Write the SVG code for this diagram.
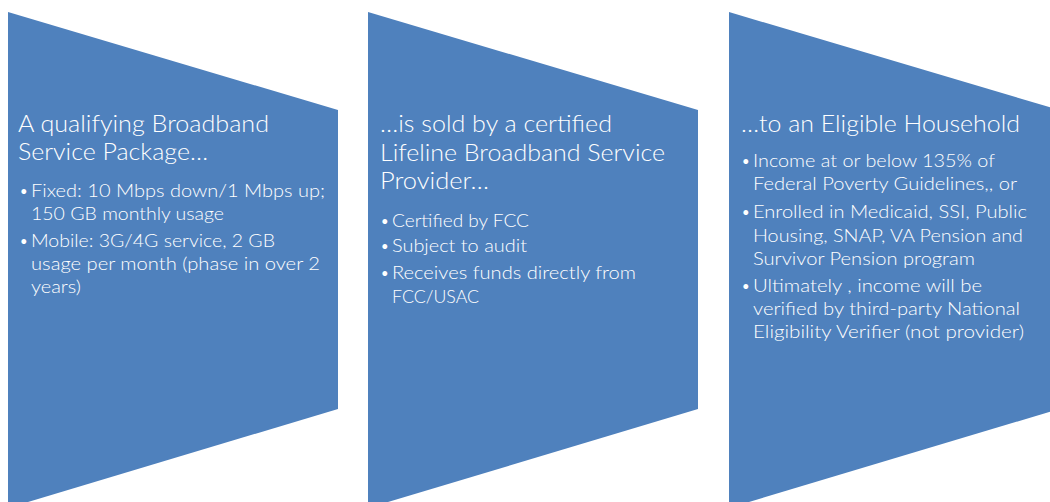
<svg xmlns="http://www.w3.org/2000/svg" width="1050" height="502" viewBox="0 0 1050 502">
<style>
.shape{fill:#4F81BD;}
.t{font-family:Lato,"Open Sans","Liberation Sans",sans-serif;fill:#FFFFFF;font-weight:300;}
.h{font-size:23px;}
.b{font-size:17.5px;}
.d{font-size:13px;font-weight:400;}
</style>
<rect width="1050" height="502" fill="#FFFFFF"/>
<g id="node1">
<polygon class="shape" points="8,12 338,110 338,409 8,508"/>
<text class="t h" x="18" y="132" textLength="251" lengthAdjust="spacingAndGlyphs">A qualifying Broadband</text>
<text class="t h" x="18" y="160" textLength="190" lengthAdjust="spacingAndGlyphs">Service Package…</text>
<text class="t d" x="20" y="196">•</text>
<text class="t b" x="31" y="197" textLength="294" lengthAdjust="spacingAndGlyphs">Fixed: 10 Mbps down/1 Mbps up;</text>
<text class="t b" x="31" y="220" textLength="193" lengthAdjust="spacingAndGlyphs">150 GB monthly usage</text>
<text class="t d" x="20" y="246">•</text>
<text class="t b" x="31" y="247" textLength="244" lengthAdjust="spacingAndGlyphs">Mobile: 3G/4G service, 2 GB</text>
<text class="t b" x="31" y="270" textLength="289" lengthAdjust="spacingAndGlyphs">usage per month (phase in over 2</text>
<text class="t b" x="31" y="293" textLength="50" lengthAdjust="spacingAndGlyphs">years)</text>
</g>
<g id="node2">
<polygon class="shape" points="368,12 698,110 698,409 368,508"/>
<text class="t h" x="380" y="132" textLength="232" lengthAdjust="spacingAndGlyphs">…is sold by a certified</text>
<text class="t h" x="380" y="161" textLength="285" lengthAdjust="spacingAndGlyphs">Lifeline Broadband Service</text>
<text class="t h" x="380" y="189" textLength="109" lengthAdjust="spacingAndGlyphs">Provider…</text>
<text class="t d" x="381" y="226">•</text>
<text class="t b" x="392" y="227" textLength="137" lengthAdjust="spacingAndGlyphs">Certified by FCC</text>
<text class="t d" x="381" y="251">•</text>
<text class="t b" x="392" y="252" textLength="135" lengthAdjust="spacingAndGlyphs">Subject to audit</text>
<text class="t d" x="381" y="278">•</text>
<text class="t b" x="392" y="279" textLength="244" lengthAdjust="spacingAndGlyphs">Receives funds directly from</text>
<text class="t b" x="392" y="303" textLength="87" lengthAdjust="spacingAndGlyphs">FCC/USAC</text>
</g>
<g id="node3">
<polygon class="shape" points="729,12 1059,110 1059,409 729,508"/>
<text class="t h" x="741" y="132" textLength="279" lengthAdjust="spacingAndGlyphs">…to an Eligible Household</text>
<text class="t d" x="742" y="166">•</text>
<text class="t b" x="753" y="167" textLength="242" lengthAdjust="spacingAndGlyphs">Income at or below 135% of</text>
<text class="t b" x="753" y="190" textLength="264" lengthAdjust="spacingAndGlyphs">Federal Poverty Guidelines,, or</text>
<text class="t d" x="742" y="217">•</text>
<text class="t b" x="753" y="218" textLength="274" lengthAdjust="spacingAndGlyphs">Enrolled in Medicaid, SSI, Public</text>
<text class="t b" x="753" y="242" textLength="270" lengthAdjust="spacingAndGlyphs">Housing, SNAP, VA Pension and</text>
<text class="t b" x="753" y="265" textLength="222" lengthAdjust="spacingAndGlyphs">Survivor Pension program</text>
<text class="t d" x="742" y="291">•</text>
<text class="t b" x="753" y="292" textLength="229" lengthAdjust="spacingAndGlyphs">Ultimately , income will be</text>
<text class="t b" x="753" y="315" textLength="267" lengthAdjust="spacingAndGlyphs">verified by third-party National</text>
<text class="t b" x="753" y="338" textLength="271" lengthAdjust="spacingAndGlyphs">Eligibility Verifier (not provider)</text>
</g>
<g id="connectors"/>
</svg>
